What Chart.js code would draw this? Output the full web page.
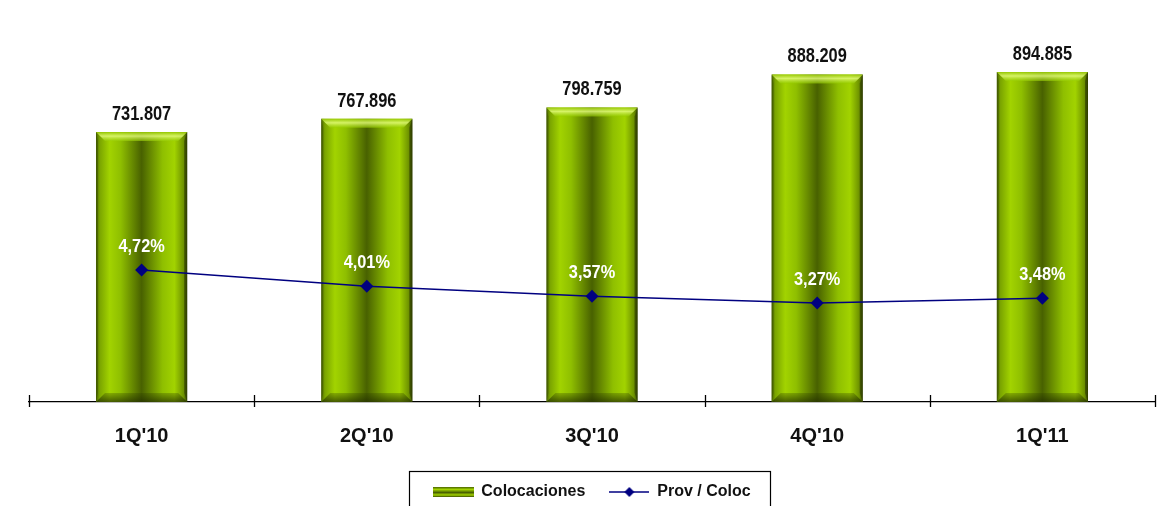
<!DOCTYPE html>
<html>
<head>
<meta charset="utf-8">
<script src="https://cdn.jsdelivr.net/npm/chart.js@4"></script>
<style>
  html, body { margin: 0; padding: 0; background: #fff; }
</style>
</head>
<body>
<canvas id="grafico" width="1165" height="506"></canvas>
<script>
// Datos por trimestre
const trimestres = ["1Q'10", "2Q'10", "3Q'10", "4Q'10", "1Q'11"];
const colocaciones = [731807, 767896, 798759, 888209, 894885];
const provColoc = [4.72, 4.01, 3.57, 3.27, 3.48];

const FUENTE = '"Liberation Sans", Arial, sans-serif';
const AZUL = '#000080';

function formatoMiles(v) {
  return String(v).replace(/\B(?=(\d{3})+(?!\d))/g, '.');
}
function formatoPct(v) {
  return v.toFixed(2).replace('.', ',') + '%';
}

// gradiente horizontal tipo cilindro para cada barra
function gradienteBarra(ctx, x0, x1) {
  const g = ctx.createLinearGradient(x0, 0, x1, 0);
  g.addColorStop(0.00, '#4a6400');
  g.addColorStop(0.04, '#7aa400');
  g.addColorStop(0.15, '#a2d300');
  g.addColorStop(0.27, '#8fbf00');
  g.addColorStop(0.50, '#486100');
  g.addColorStop(0.73, '#8fbf00');
  g.addColorStop(0.86, '#a2d300');
  g.addColorStop(0.96, '#6e9200');
  g.addColorStop(1.00, '#3a4d00');
  return g;
}

// iconos de la leyenda
function iconoBarra() {
  const c = document.createElement('canvas');
  c.width = 41; c.height = 10;
  const g = c.getContext('2d');
  const gr = g.createLinearGradient(0, 0, 0, 10);
  gr.addColorStop(0, '#4a6400');
  gr.addColorStop(0.25, '#a2d300');
  gr.addColorStop(0.55, '#486100');
  gr.addColorStop(0.8, '#a2d300');
  gr.addColorStop(1, '#3a4d00');
  g.fillStyle = gr;
  g.fillRect(0, 0, 41, 10);
  return c;
}
function iconoLinea() {
  const c = document.createElement('canvas');
  c.width = 40; c.height = 12;
  const g = c.getContext('2d');
  g.strokeStyle = AZUL;
  g.lineWidth = 1.5;
  g.beginPath(); g.moveTo(0, 6); g.lineTo(40, 6); g.stroke();
  g.fillStyle = AZUL;
  g.beginPath(); g.moveTo(20, 1); g.lineTo(25, 6); g.lineTo(20, 11); g.lineTo(15, 6); g.closePath(); g.fill();
  return c;
}
const iconos = [iconoBarra(), iconoLinea()];

function textoEstrecho(ctx, txt, x, y, escala) {
  ctx.save();
  ctx.translate(x, y);
  ctx.scale(escala, 1);
  ctx.fillText(txt, 0, 0);
  ctx.restore();
}

// biselado de las barras (arriba, abajo y lados)
const biselBarras = {
  id: 'biselBarras',
  afterDatasetDraw(chart, args) {
    if (args.index !== 0) return;
    const ctx = chart.ctx;
    args.meta.data.forEach(barra => {
      const { x, y, base, width } = barra.getProps(['x', 'y', 'base', 'width'], true);
      const x0 = x - width / 2, x1 = x + width / 2, b = 9;
      ctx.save();
      // arriba
      let g = ctx.createLinearGradient(0, y, 0, y + b);
      g.addColorStop(0, 'rgba(150,200,0,0.9)');
      g.addColorStop(0.45, 'rgba(225,250,120,0.85)');
      g.addColorStop(1, 'rgba(150,205,0,0.6)');
      ctx.fillStyle = g;
      ctx.beginPath();
      ctx.moveTo(x0, y); ctx.lineTo(x1, y); ctx.lineTo(x1 - b, y + b); ctx.lineTo(x0 + b, y + b);
      ctx.closePath(); ctx.fill();
      // abajo
      g = ctx.createLinearGradient(0, base - b, 0, base);
      g.addColorStop(0, 'rgba(40,55,0,0.25)');
      g.addColorStop(1, 'rgba(30,40,0,0.7)');
      ctx.fillStyle = g;
      ctx.beginPath();
      ctx.moveTo(x0, base); ctx.lineTo(x1, base); ctx.lineTo(x1 - b, base - b); ctx.lineTo(x0 + b, base - b);
      ctx.closePath(); ctx.fill();
      // lado derecho
      ctx.fillStyle = 'rgba(30,40,0,0.45)';
      ctx.beginPath();
      ctx.moveTo(x1, y); ctx.lineTo(x1, base); ctx.lineTo(x1 - 3, base - b); ctx.lineTo(x1 - 3, y + b);
      ctx.closePath(); ctx.fill();
      // lado izquierdo
      ctx.fillStyle = 'rgba(40,55,0,0.3)';
      ctx.beginPath();
      ctx.moveTo(x0, y); ctx.lineTo(x0, base); ctx.lineTo(x0 + 2, base - b); ctx.lineTo(x0 + 2, y + b);
      ctx.closePath(); ctx.fill();
      ctx.restore();
    });
  }
};

// valores sobre barras y porcentajes sobre la línea
const etiquetas = {
  id: 'etiquetas',
  afterDatasetsDraw(chart) {
    const ctx = chart.ctx;
    ctx.save();
    ctx.textAlign = 'center';
    ctx.textBaseline = 'alphabetic';
    ctx.font = 'bold 20px ' + FUENTE;
    ctx.fillStyle = '#111';
    chart.getDatasetMeta(0).data.forEach((barra, i) => {
      textoEstrecho(ctx, formatoMiles(colocaciones[i]), barra.x, barra.y - 12, 0.82);
    });
    ctx.font = 'bold 19px ' + FUENTE;
    ctx.fillStyle = '#fff';
    chart.getDatasetMeta(1).data.forEach((punto, i) => {
      textoEstrecho(ctx, formatoPct(provColoc[i]), punto.x, punto.y - 18, 0.86);
    });
    ctx.restore();
  }
};

// marcas del eje X entre categorías y recuadro de la leyenda
const ejeYLeyenda = {
  id: 'ejeYLeyenda',
  afterDraw(chart) {
    const ctx = chart.ctx;
    const ex = chart.scales.x;
    const fondo = chart.chartArea.bottom;
    const paso = (ex.right - ex.left) / trimestres.length;
    ctx.save();
    ctx.strokeStyle = '#000';
    ctx.lineWidth = 1.3;
    for (let i = 0; i <= trimestres.length; i++) {
      const px = Math.round(ex.left + i * paso) + 0.5;
      ctx.beginPath(); ctx.moveTo(px, fondo - 7); ctx.lineTo(px, fondo + 5); ctx.stroke();
    }
    const cajas = chart.legend.legendHitBoxes;
    if (cajas && cajas.length) {
      const ult = cajas[cajas.length - 1];
      const izq = cajas[0].left - 24;
      const der = ult.left + ult.width + 20;
      const arriba = cajas[0].top - 13;
      ctx.lineWidth = 1.2;
      ctx.strokeRect(Math.round(izq) + 0.5, Math.round(arriba) + 0.5, Math.round(der - izq), 80);
    }
    ctx.restore();
  }
};

new Chart(document.getElementById('grafico'), {
  data: {
    labels: trimestres,
    datasets: [
      {
        type: 'bar',
        label: 'Colocaciones',
        data: colocaciones,
        yAxisID: 'y',
        order: 1,
        backgroundColor: (c) => {
          const ch = c.chart;
          const ex = ch.scales.x;
          if (!ex || c.dataIndex === undefined) return '#8fbf00';
          const cx = ex.getPixelForValue(c.dataIndex);
          const mitad = (ex.right - ex.left) / trimestres.length * 0.405 / 2;
          if (!isFinite(cx) || !isFinite(mitad) || mitad <= 0) return '#8fbf00';
          return gradienteBarra(ch.ctx, cx - mitad, cx + mitad);
        },
        borderWidth: 0,
        barPercentage: 0.405,
        categoryPercentage: 1.0
      },
      {
        type: 'line',
        label: 'Prov / Coloc',
        data: provColoc,
        yAxisID: 'y2',
        order: 0,
        borderColor: AZUL,
        borderWidth: 1.5,
        backgroundColor: AZUL,
        pointStyle: 'rectRot',
        pointRadius: 6.5,
        pointBackgroundColor: AZUL,
        pointBorderWidth: 0,
        tension: 0
      }
    ]
  },
  options: {
    responsive: false,
    animation: false,
    devicePixelRatio: 1,
    layout: { autoPadding: false, padding: { left: 29, right: 10, top: 0, bottom: -4 } },
    scales: {
      x: {
        grid: { display: false, drawTicks: false },
        border: { display: true, color: '#000', width: 1.3 },
        ticks: { color: '#111', font: { family: FUENTE, size: 20, weight: 'bold' }, padding: 22 },
        afterFit: (s) => { s.height = 58; }
      },
      y: { display: false, min: 0, max: 1090000 },
      y2: { display: false, position: 'right', min: -1.069, max: 16.56 }
    },
    plugins: {
      tooltip: { enabled: false },
      legend: {
        position: 'bottom',
        labels: {
          usePointStyle: true,
          pointStyleWidth: 40,
          padding: 24,
          color: '#111',
          font: { family: FUENTE, size: 16, weight: 'bold' },
          sort: (a, b) => a.datasetIndex - b.datasetIndex,
          generateLabels: (ch) => Chart.defaults.plugins.legend.labels.generateLabels(ch)
            .map(it => Object.assign(it, { pointStyle: iconos[it.datasetIndex] }))
        }
      }
    }
  },
  plugins: [biselBarras, etiquetas, ejeYLeyenda]
});
</script>
</body>
</html>
